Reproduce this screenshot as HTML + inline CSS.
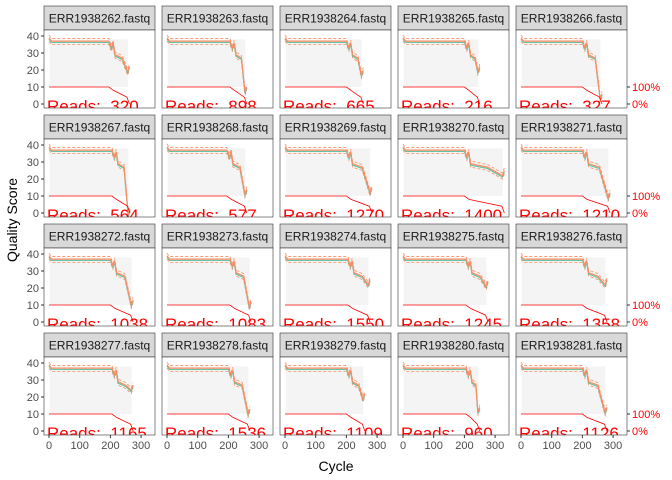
<!DOCTYPE html>
<html><head><meta charset="utf-8"><style>
body{margin:0;background:#fff}
svg{display:block;font-family:"Liberation Sans",sans-serif}
</style></head><body>
<svg id="c" width="672" height="480"></svg>
<script>
const samples=["ERR1938262.fastq","ERR1938263.fastq","ERR1938264.fastq","ERR1938265.fastq","ERR1938266.fastq","ERR1938267.fastq","ERR1938268.fastq","ERR1938269.fastq","ERR1938270.fastq","ERR1938271.fastq","ERR1938272.fastq","ERR1938273.fastq","ERR1938274.fastq","ERR1938275.fastq","ERR1938276.fastq","ERR1938277.fastq","ERR1938278.fastq","ERR1938279.fastq","ERR1938280.fastq","ERR1938281.fastq"];
const reads=[320,898,665,216,327,564,577,1270,1400,1210,1038,1083,1550,1245,1358,1165,1536,1109,960,1126];
const endCycle=[262,260,255,250,264,264,260,283,330,290,274,274,277,277,280,274,270,260,250,280];
const endQ=[22,10,20,22,6,2,14,15,25,12,13,12,25,24,25,27,13,22,14,14];
const dropStart=[195,205,200,200,200,205,195,200,200,200,200,205,205,205,200,205,200,200,205,200];
const xTicks=[0,100,200,300];
const yTicks=[0,10,20,30,40];
const NS="http://www.w3.org/2000/svg";
const svg=document.getElementById('c');
function mk(t,a,p){const e=document.createElementNS(NS,t);for(const k in a)e.setAttribute(k,a[k]);(p||svg).appendChild(e);return e;}
const colX=[44,162,280,398,516], pw=111, rowY=[6,115,224,333], sh=24, ph=78;
for(let i=0;i<20;i++){
  const c=i%5,r=Math.floor(i/5);
  const L=colX[c], T=rowY[r]+sh, B=T+ph;
  const sx=v=>L+5+v*0.307, sy=v=>B-4-v*1.7;
  const g=mk('g',{});
  
  
  const strip=mk('rect',{x:L,y:rowY[r],width:pw,height:sh,fill:'#d9d9d9',stroke:'#333','stroke-width':0.6},g);
  
  const st=mk('text',{x:L+pw/2,y:rowY[r]+16.5,'text-anchor':'middle','font-size':12,fill:'#1a1a1a'},g);st.textContent=samples[i];
  
  const clipId='cl'+i;const cp=mk('clipPath',{id:clipId},g);mk('rect',{x:L,y:T,width:pw,height:ph},cp);
  const inner=mk('g',{'clip-path':'url(#'+clipId+')'},g);
  mk('rect',{x:L,y:T,width:pw,height:ph,fill:'#fff'},inner);
  const d=dropStart[i],e=endCycle[i],q=endQ[i];
  const hm=mk('rect',{x:sx(2),y:sy(38),width:sx(e-5)-sx(2),height:sy(10)-sy(38),fill:'#f1f1f1',opacity:0.8},inner);
  
  const med=[[0,39],[8,37],[d,37],[d+8,33],[d+14,36],[d+20,29],[(d+20+e)/2,27],[e-6,q-3],[e,q]];
  const toP=(arr,off)=>arr.map(p=>sx(p[0])+','+sy(p[1]+off)).join(' ');
  mk('polyline',{points:toP(med,1.5),fill:'none',stroke:'#FC8D62','stroke-width':0.8,'stroke-dasharray':'3,2'},inner);
  mk('polyline',{points:toP(med,-2),fill:'none',stroke:'#FC8D62','stroke-width':0.8,'stroke-dasharray':'3,2'},inner);
  const ml=mk('polyline',{points:toP(med,-0.8),fill:'none',stroke:'#66C2A5','stroke-width':1.2},inner);
  
  const md=mk('polyline',{points:toP(med,0),fill:'none',stroke:'#FC8D62','stroke-width':1.2},inner);
  
  const rl=[[0,10],[d,10],[d+15,8],[e-8,4],[e,0]];
  const rd=mk('polyline',{points:toP(rl,0),fill:'none',stroke:'#ff0000','stroke-width':0.8},inner);
  
  const rt=mk('text',{x:L+3,y:B+4,'font-size':17,fill:'#ff0000'},inner);rt.textContent='Reads:\u00a0\u00a0'+reads[i];
  
  mk('rect',{x:L,y:T,width:pw,height:ph,fill:'none',stroke:'#333','stroke-width':0.6},g);
  if(c===0){yTicks.forEach(v=>{mk('line',{x1:L-3,x2:L,y1:sy(v),y2:sy(v),stroke:'#333'},g);
    const t=mk('text',{x:L-5,y:sy(v)+4,'text-anchor':'end','font-size':11,fill:'#4d4d4d'},g);t.textContent=v;});}
  if(c===4){[[10,'100%'],[0,'0%']].forEach(p=>{mk('line',{x1:L+pw,x2:L+pw+3,y1:sy(p[0]),y2:sy(p[0]),stroke:'#333'},g);
    const t=mk('text',{x:L+pw+5,y:sy(p[0])+4,'font-size':11,fill:'#ff0000'},g);t.textContent=p[1];});}
  if(r===3){xTicks.forEach(v=>{mk('line',{x1:sx(v),x2:sx(v),y1:B,y2:B+3,stroke:'#333'},g);
    const t=mk('text',{x:sx(v),y:B+14,'text-anchor':'middle','font-size':11,fill:'#4d4d4d'},g);t.textContent=v;});}
}
const xt=mk('text',{x:336,y:471,'text-anchor':'middle','font-size':14,fill:'#000'});xt.textContent='Cycle';

const yt=mk('text',{x:17,y:220,'text-anchor':'middle','font-size':14,fill:'#000',transform:'rotate(-90 17 220)'});yt.textContent='Quality Score';

</script>
</body></html>
